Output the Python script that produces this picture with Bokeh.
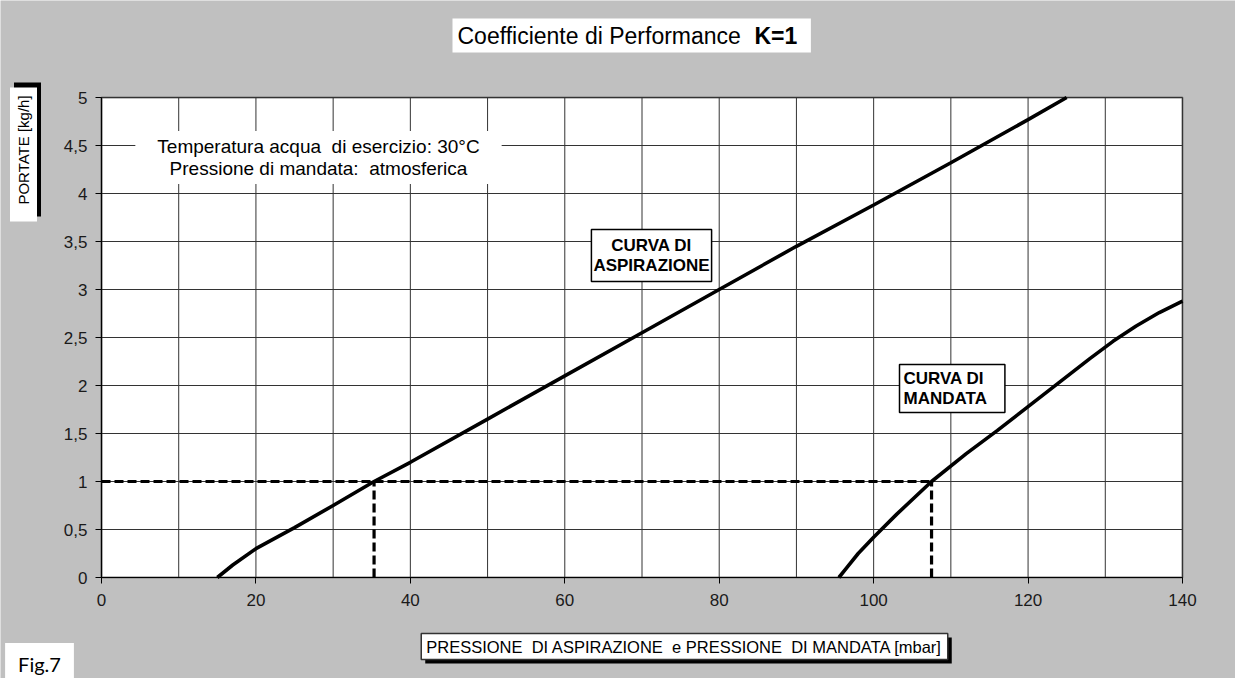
from bokeh.plotting import figure
from bokeh.models import Label, FixedTicker, Range1d
from bokeh.embed import file_html
from bokeh.resources import INLINE

# ---------------- data ----------------
x_ticks = [0, 20, 40, 60, 80, 100, 120, 140]
x_grid = [0, 10, 20, 30, 40, 50, 60, 70, 80, 90, 100, 110, 120, 130, 140]
y_ticks = [0, 0.5, 1, 1.5, 2, 2.5, 3, 3.5, 4, 4.5, 5]
y_tick_labels = ["0", "0,5", "1", "1,5", "2", "2,5", "3", "3,5", "4", "4,5", "5"]

# curva di aspirazione (pressione mbar -> portata kg/h)
asp_x = [15, 17, 20, 25, 30, 35.3, 40, 50, 60, 70, 80, 90, 100, 110, 120, 125]
asp_y = [0, 0.13, 0.30, 0.52, 0.75, 1.0, 1.2, 1.65, 2.1, 2.55, 3.0, 3.45, 3.88, 4.32, 4.77, 5.0]

# curva di mandata
man_x = [95.5, 96.5, 98, 100, 103, 107.5, 112, 116, 120, 124, 128, 131, 134, 137, 140]
man_y = [0, 0.1, 0.25, 0.42, 0.66, 1.0, 1.29, 1.53, 1.78, 2.03, 2.28, 2.46, 2.62, 2.76, 2.88]

# punto di lavoro
op_flow = 1.0
asp_op_p = 35.3
man_op_p = 107.5

FONT = "Liberation Sans"
GRAY = "#C0C0C0"
NB = "\u00a0"

W, H = 1235, 678
# plot area inside the canvas (pixels): left, right, top, bottom
PL, PR, PT, PB = 101, 1182, 97, 577
xmin, xmax = x_grid[0], x_grid[-1]
ymin, ymax = y_ticks[0], y_ticks[-1]
kx = (PR - PL) / (xmax - xmin)
ky = (PB - PT) / (ymax - ymin)

p = figure(width=W, height=H, output_backend="svg", toolbar_location=None,
           x_range=Range1d(xmin - PL / kx, xmax + (W - PR) / kx),
           y_range=Range1d(ymin - (H - PB) / ky, ymax + PT / ky),
           min_border=0, min_border_left=0, min_border_right=0,
           min_border_top=0, min_border_bottom=0,
           background_fill_color=GRAY, border_fill_color=GRAY)
p.outline_line_color = None
p.grid.visible = False

# white plot area with grey frame
p.quad(left=[xmin], right=[xmax], bottom=[ymin], top=[ymax],
       fill_color="white", line_color="#808080", line_width=2)

# grid
p.segment(x0=x_grid, y0=[ymin] * len(x_grid), x1=x_grid, y1=[ymax] * len(x_grid),
          line_color="#333333", line_width=1)
p.segment(x0=[xmin] * len(y_ticks), y0=y_ticks, x1=[xmax] * len(y_ticks), y1=y_ticks,
          line_color="#333333", line_width=1)

# axes pinned at the plot area edges
p.xaxis.fixed_location = ymin
p.yaxis.fixed_location = xmin
p.xaxis.bounds = (xmin, xmax)
p.yaxis.bounds = (ymin, ymax)
p.xaxis.ticker = FixedTicker(ticks=x_ticks)
p.yaxis.ticker = FixedTicker(ticks=y_ticks)
p.yaxis.major_label_overrides = {t: l for t, l in zip(y_ticks, y_tick_labels)}
for ax in (p.xaxis, p.yaxis):
    ax.axis_line_color = "black"
    ax.axis_line_width = 1.2
    ax.major_tick_line_color = "black"
    ax.major_tick_in = 0
    ax.major_tick_out = 6
    ax.minor_tick_line_color = None
    ax.major_label_text_font = FONT
    ax.major_label_text_font_size = "17px"
    ax.major_label_text_color = "#1a1a1a"
p.xaxis.major_label_standoff = 10
p.yaxis.major_label_standoff = 8

# curves
p.line(asp_x, asp_y, line_color="black", line_width=3.6)
p.line(man_x, man_y, line_color="black", line_width=3.6)

# dashed operating lines
p.line([xmin, man_op_p], [op_flow, op_flow], line_color="black", line_width=3.2, line_dash="9 4")
p.line([asp_op_p, asp_op_p], [ymin, op_flow], line_color="black", line_width=3.2, line_dash="9 4")
p.line([man_op_p, man_op_p], [ymin, op_flow], line_color="black", line_width=3.2, line_dash="9 4")

OFF = 8  # page margin: reference pixel -> canvas pixel


def add_box(text, cx, cy, size, style="normal", align="center", border=None,
            shadow=None, pad=4, angle=0, font=FONT, lh=1.2, bg="white", color="black"):
    sx, sy = cx - OFF, H - (cy - OFF)
    common = dict(x_units="screen", y_units="screen", text=text, text_font=font,
                  text_font_size=size, text_font_style=style, text_align=align,
                  text_baseline="middle", padding=pad, angle=angle, angle_units="deg",
                  text_line_height=lh)
    if shadow:
        p.add_layout(Label(x=sx + shadow[0], y=sy - shadow[1], text_color="black",
                           background_fill_color="black", **common))
    p.add_layout(Label(x=sx, y=sy, text_color=color, background_fill_color=bg,
                       border_line_color=border, border_line_width=1.5, **common))


# title
add_box("Coefficiente di Performance", 460, 43, "23px", align="left",
        pad=dict(left=5, right=70, top=4, bottom=4))
add_box("K=1", 762, 43, "23px", style="bold", align="left", pad=0, bg=None)

# y axis label
add_box("PORTATE [kg/h]", 31, 162, "15px", angle=90, shadow=(4, -5),
        pad=dict(left=17, right=8, top=5, bottom=5))

# x axis label
add_box(f"PRESSIONE{NB} DI ASPIRAZIONE{NB} e PRESSIONE{NB} DI MANDATA [mbar]", 692, 654, "16.5px",
        shadow=(4, 4), pad=dict(left=5, right=5, top=4, bottom=4), border="#333333")

# conditions
add_box(f"Temperatura acqua{NB} di esercizio: 30°C\nPressione di mandata:{NB} atmosferica",
        326, 165, "19px", pad=dict(left=22, right=22, top=5, bottom=5), lh=1.05)

# curve labels
add_box("CURVA DI\nASPIRAZIONE", 659, 263, "17px", style="bold",
        border="black", pad=dict(left=2, right=2, top=6, bottom=6), lh=1.1)
add_box("CURVA DI\nMANDATA", 907, 396, "17px", style="bold", align="left",
        border="black", pad=dict(left=4, right=18, top=4, bottom=4), lh=1.1)

# figure tag
add_box("Fig.7", 47, 674, "20px", font="Lato", pad=dict(left=13, right=13, top=9, bottom=14))

open("out.html", "w").write(file_html(p, INLINE))
